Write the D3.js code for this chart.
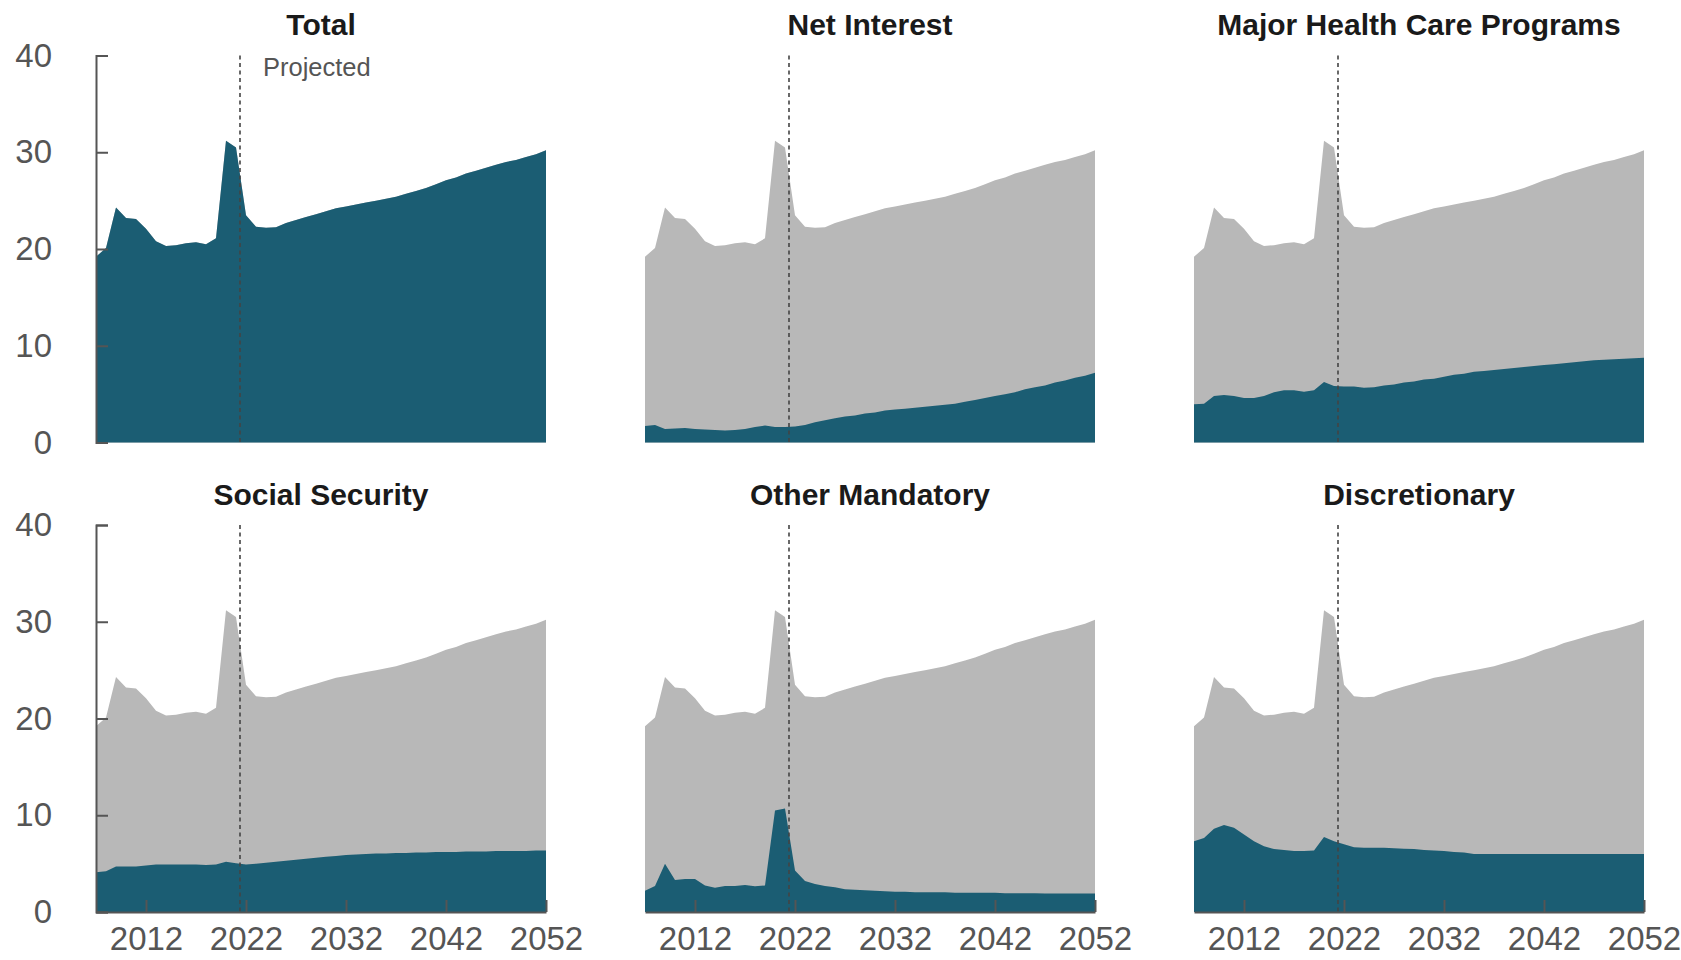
<!DOCTYPE html>
<html>
<head>
<meta charset="utf-8">
<script src="https://cdn.jsdelivr.net/npm/d3@7"></script>
<style>
  body { margin: 0; background: #fff; }
  svg text { font-family: "Liberation Sans", Arial, sans-serif; }
</style>
</head>
<body>
<div id="chart"></div>
<script>
// ------------------------------------------------------------------------ //
// DATA (percentage of GDP)
// ------------------------------------------------------------------------ //

var years = [2007, 2008, 2009, 2010, 2011, 2012, 2013, 2014, 2015, 2016,
  2017, 2018, 2019, 2020, 2021, 2022, 2023, 2024, 2025, 2026,
  2027, 2028, 2029, 2030, 2031, 2032, 2033, 2034, 2035, 2036,
  2037, 2038, 2039, 2040, 2041, 2042, 2043, 2044, 2045, 2046,
  2047, 2048, 2049, 2050, 2051, 2052];

var total = [19.2, 20.1, 24.3, 23.2, 23.1, 22.1, 20.8, 20.3, 20.4, 20.6,
  20.7, 20.5, 21.1, 31.2, 30.5, 23.5, 22.3, 22.2, 22.25, 22.7,
  23.0, 23.3, 23.6, 23.9, 24.2, 24.4, 24.6, 24.8, 25.0, 25.2,
  25.4, 25.7, 26.0, 26.3, 26.7, 27.1, 27.4, 27.8, 28.1, 28.4,
  28.7, 29.0, 29.2, 29.5, 29.8, 30.2];

var netInterest = [1.7, 1.8, 1.4, 1.45, 1.5, 1.4, 1.35, 1.3, 1.25, 1.3,
  1.4, 1.6, 1.75, 1.6, 1.6, 1.65, 1.8, 2.1, 2.3, 2.5,
  2.7, 2.8, 3.0, 3.1, 3.3, 3.4, 3.5, 3.6, 3.7, 3.8,
  3.9, 4.0, 4.2, 4.4, 4.6, 4.8, 5.0, 5.2, 5.5, 5.7,
  5.9, 6.2, 6.4, 6.7, 6.9, 7.2];

var healthCare = [3.95, 4.0, 4.8, 4.9, 4.8, 4.6, 4.6, 4.8, 5.2, 5.4,
  5.4, 5.25, 5.4, 6.25, 5.85, 5.8, 5.8, 5.65, 5.7, 5.9,
  6.0, 6.2, 6.3, 6.5, 6.6, 6.8, 7.0, 7.1, 7.3, 7.4,
  7.5, 7.6, 7.7, 7.8, 7.9, 8.0, 8.1, 8.2, 8.3, 8.4,
  8.5, 8.55, 8.6, 8.65, 8.7, 8.75];

var socialSecurity = [4.1, 4.2, 4.7, 4.7, 4.7, 4.8, 4.9, 4.9, 4.9, 4.9,
  4.9, 4.85, 4.9, 5.2, 5.05, 4.9, 5.0, 5.1, 5.2, 5.3,
  5.4, 5.5, 5.6, 5.7, 5.8, 5.9, 5.95, 6.0, 6.05, 6.05,
  6.1, 6.1, 6.15, 6.15, 6.2, 6.2, 6.2, 6.25, 6.25, 6.25,
  6.3, 6.3, 6.3, 6.3, 6.35, 6.35];

var otherMandatory = [2.2, 2.7, 5.0, 3.3, 3.4, 3.4, 2.75, 2.5, 2.7, 2.7,
  2.8, 2.65, 2.75, 10.5, 10.7, 4.3, 3.2, 2.9, 2.7, 2.55,
  2.35, 2.3, 2.25, 2.2, 2.15, 2.1, 2.1, 2.05, 2.05, 2.05,
  2.05, 2.0, 2.0, 2.0, 2.0, 2.0, 1.95, 1.95, 1.95, 1.95,
  1.9, 1.9, 1.9, 1.9, 1.9, 1.9];

var discretionary = [7.3, 7.65, 8.6, 9.0, 8.7, 8.0, 7.3, 6.8, 6.5, 6.4,
  6.3, 6.3, 6.35, 7.75, 7.3, 7.0, 6.7, 6.65, 6.65, 6.65,
  6.6, 6.55, 6.5, 6.4, 6.35, 6.3, 6.2, 6.15, 6.0, 6.0,
  6.0, 6.0, 6.0, 6.0, 6.0, 6.0, 6.0, 6.0, 6.0, 6.0,
  6.0, 6.0, 6.0, 6.0, 6.0, 6.0];

var panelTitles = ["Total", "Net Interest", "Major Health Care Programs",
  "Social Security", "Other Mandatory", "Discretionary"];
var panelSeries = [total, netInterest, healthCare, socialSecurity, otherMandatory, discretionary];

var yTicks = [0, 10, 20, 30, 40];
var xTicks = [2012, 2022, 2032, 2042, 2052];
var projectedStart = 2021.4;

// ------------------------------------------------------------------------ //
// SVG AREA
// ------------------------------------------------------------------------ //

var svgWidth = 1681, svgHeight = 960;
var panelWidth = 450, panelHeight = 387;
var colLeft = [96, 645, 1194];
var rowBottom = [442.5, 912];

var teal = "#1b5d73", grey = "#b8b8b8", axisGrey = "#555555";

var svg = d3.select("#chart")
  .append("svg")
    .attr("width", svgWidth)
    .attr("height", svgHeight);

var x = d3.scaleLinear()
  .domain([2007, 2052])
  .range([0, panelWidth]);

var y = d3.scaleLinear()
  .domain([0, 40])
  .range([panelHeight, 0]);

var area = function(values) {
  return d3.area()
    .x(function(d, i) { return x(years[i]) })
    .y0(y(0))
    .y1(function(d) { return y(d) })(values);
}

// ------------------------------------------------------------------------ //
// PANELS
// ------------------------------------------------------------------------ //

panelTitles.forEach(function(title, p) {
  var col = p % 3, row = Math.floor(p / 3);
  var g = svg.append("g")
    .attr("transform", "translate(" + colLeft[col] + "," + (rowBottom[row] - panelHeight) + ")");

  // grey total behind the component
  g.append("path")
    .attr("d", area(total))
    .style("fill", grey);

  g.append("path")
    .attr("d", area(panelSeries[p]))
    .style("fill", teal);

  // projected divider
  g.append("line")
    .attr("x1", x(projectedStart)).attr("x2", x(projectedStart))
    .attr("y1", y(40)).attr("y2", y(0))
    .style("stroke", "#444")
    .style("stroke-width", 1.6)
    .style("stroke-dasharray", "4,3.5");

  // title
  g.append("text")
    .text(title)
    .attr("x", panelWidth / 2)
    .attr("y", -20.5)
    .style("font-size", "30px")
    .style("font-weight", "bold")
    .style("fill", "#1a1a1a")
    .style("text-anchor", "middle");

  if (p === 0) {
    g.append("text")
      .text("Projected")
      .attr("x", x(projectedStart) + 23)
      .attr("y", 20)
      .style("font-size", "25.5px")
      .style("fill", axisGrey);
  }

  // y axis on left column
  if (col === 0) {
    var yAxis = g.append("g")
      .call(d3.axisLeft(y).tickValues(yTicks).tickSize(-12).tickSizeOuter(-12).tickPadding(44));
    yAxis.selectAll("text").style("font-size", "33px").style("fill", axisGrey);
    yAxis.selectAll("line, path").style("stroke", axisGrey).style("stroke-width", 2);
  }

  // x axis on bottom row
  if (row === 1) {
    var xAxis = g.append("g")
      .attr("transform", "translate(0," + panelHeight + ")")
      .call(d3.axisBottom(x).tickValues(xTicks).tickFormat(d3.format("d")).tickSize(-12).tickSizeOuter(0).tickPadding(15));
    xAxis.selectAll("text").style("font-size", "33px").style("fill", axisGrey);
    xAxis.selectAll("line, path").style("stroke", axisGrey).style("stroke-width", 2);
  }
});
</script>
</body>
</html>
